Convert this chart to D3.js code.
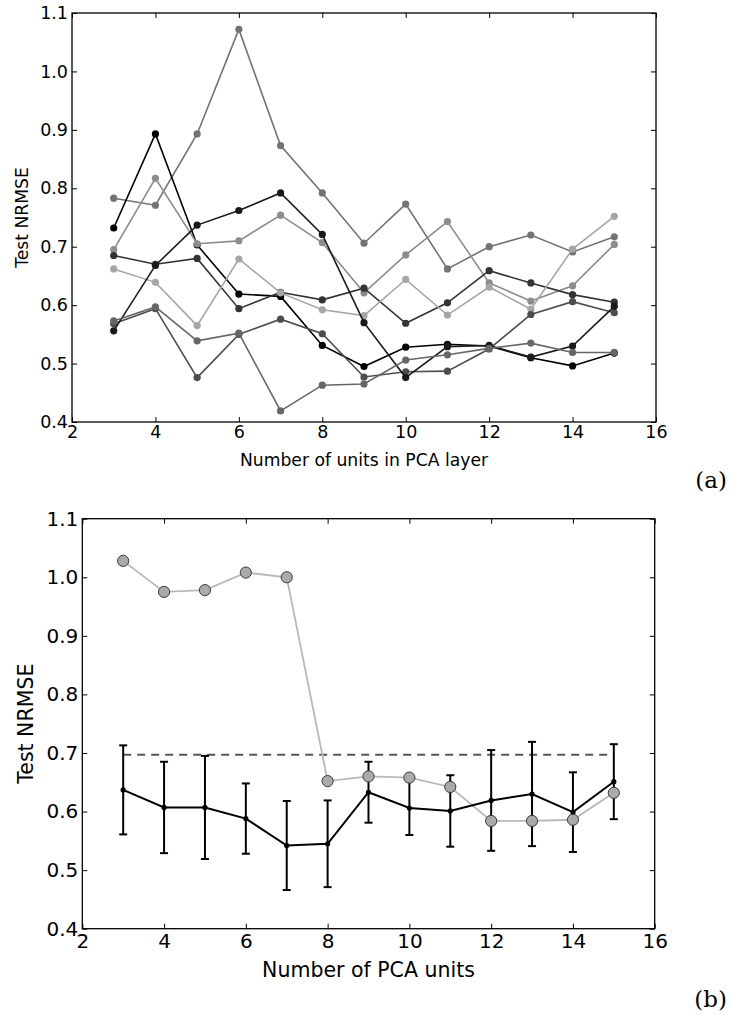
<!DOCTYPE html>
<html>
<head>
<meta charset="utf-8">
<script src="https://cdn.jsdelivr.net/npm/d3@7"></script>
<style>
  body { margin: 0; background: #fff; }
  svg { display: block; }
  .tick text { font-family: "DejaVu Sans", sans-serif; fill: #000; }
  .tick line { stroke: #000; stroke-width: 1; }
</style>
</head>
<body>
<div id="chart"></div>
<script>
// x values shared by both panels
const units = [3, 4, 5, 6, 7, 8, 9, 10, 11, 12, 13, 14, 15];

// (a) test NRMSE of the individual runs
const run1 = [0.783, 0.771, 0.893, 1.072, 0.873, 0.792, 0.706, 0.773, 0.662, 0.700, 0.720, 0.691, 0.717];
const run2 = [0.732, 0.893, 0.703, 0.619, 0.615, 0.531, 0.495, 0.528, 0.533, 0.530, 0.510, 0.496, 0.518];
const run3 = [0.695, 0.817, 0.705, 0.710, 0.754, 0.707, 0.621, 0.686, 0.743, 0.638, 0.607, 0.633, 0.704];
const run4 = [0.685, 0.670, 0.680, 0.594, 0.622, 0.609, 0.629, 0.569, 0.604, 0.659, 0.638, 0.618, 0.605];
const run5 = [0.662, 0.639, 0.565, 0.679, 0.621, 0.592, 0.582, 0.644, 0.583, 0.631, 0.593, 0.696, 0.752];
const run6 = [0.568, 0.594, 0.476, 0.550, 0.576, 0.551, 0.477, 0.486, 0.487, 0.525, 0.584, 0.606, 0.587];
const run7 = [0.556, 0.668, 0.737, 0.762, 0.792, 0.721, 0.570, 0.476, 0.529, 0.531, 0.511, 0.530, 0.598];
const run8 = [0.573, 0.597, 0.539, 0.552, 0.419, 0.463, 0.465, 0.506, 0.515, 0.526, 0.535, 0.519, 0.519];

// (b) mean and spread over runs, the single-model curve and the reference level
const meanNRMSE = [0.637, 0.607, 0.607, 0.588, 0.542, 0.545, 0.633, 0.606, 0.601, 0.619, 0.630, 0.599, 0.651];
const errNRMSE = [0.076, 0.078, 0.088, 0.060, 0.076, 0.074, 0.052, 0.046, 0.061, 0.086, 0.089, 0.068, 0.064];
const pcaNRMSE = [1.028, 0.975, 0.978, 1.008, 1.000, 0.652, 0.660, 0.658, 0.642, 0.584, 0.584, 0.586, 0.632];
const referenceNRMSE = 0.697;

const yTicks = [0.4, 0.5, 0.6, 0.7, 0.8, 0.9, 1.0, 1.1];
const xTicks = [2, 4, 6, 8, 10, 12, 14, 16];

const runs = [run1, run2, run3, run4, run5, run6, run7, run8];
const runShades = ["#737373", "#000000", "#8c8c8c", "#333333", "#a6a6a6", "#4d4d4d", "#1a1a1a", "#666666"];

const W = 730, H = 1022;
const svg = d3.select("#chart").append("svg").attr("width", W).attr("height", H);

// draws the boxed frame with inward ticks on all four sides
function drawFrame(g, x, y, fontSize, pad) {
  const [x0, x1] = x.range();
  const [y0, y1] = y.range();
  const tick = 5;

  g.append("g")
    .attr("transform", "translate(0," + y0 + ")")
    .call(d3.axisBottom(x).tickValues(xTicks).tickSize(-tick).tickPadding(pad.x).tickFormat(d3.format("d")))
    .call(a => a.select(".domain").remove())
    .selectAll("text").style("font-size", fontSize + "px");
  g.append("g")
    .attr("transform", "translate(0," + y1 + ")")
    .call(d3.axisTop(x).tickValues(xTicks).tickSize(-tick).tickFormat(""))
    .call(a => a.select(".domain").remove());
  g.append("g")
    .attr("transform", "translate(" + x0 + ",0)")
    .call(d3.axisLeft(y).tickValues(yTicks).tickSize(-tick).tickPadding(pad.y).tickFormat(d3.format(".1f")))
    .call(a => a.select(".domain").remove())
    .selectAll("text").style("font-size", fontSize + "px");
  g.append("g")
    .attr("transform", "translate(" + x1 + ",0)")
    .call(d3.axisRight(y).tickValues(yTicks).tickSize(-tick).tickFormat(""))
    .call(a => a.select(".domain").remove());

  g.append("rect")
    .attr("x", x0).attr("y", y1)
    .attr("width", x1 - x0).attr("height", y0 - y1)
    .attr("fill", "none").attr("stroke", "#000").attr("stroke-width", 1.3);
}

function axisLabels(g, x, y, fontSize, xText, xBase, yCenterX) {
  const [x0, x1] = x.range();
  const [y0, y1] = y.range();
  g.append("text")
    .attr("x", (x0 + x1) / 2).attr("y", xBase)
    .attr("text-anchor", "middle")
    .style("font-family", "DejaVu Sans, sans-serif")
    .style("font-size", fontSize + "px")
    .text(xText);
  g.append("text")
    .attr("transform", "translate(" + yCenterX + "," + (y0 + y1) / 2 + ") rotate(-90)")
    .attr("text-anchor", "middle")
    .attr("dy", "0.35em")
    .style("font-family", "DejaVu Sans, sans-serif")
    .style("font-size", fontSize + "px")
    .text("Test NRMSE");
}

function panelTag(text, px, py) {
  svg.append("text")
    .attr("x", px).attr("y", py)
    .attr("text-anchor", "end")
    .style("font-family", "DejaVu Serif, Liberation Serif, serif")
    .style("font-size", "23px")
    .text(text);
}

// ---- panel (a): every run as its own grey polyline
{
  const x = d3.scaleLinear().domain([2, 16]).range([72, 656]);
  const y = d3.scaleLinear().domain([0.4, 1.1]).range([422, 13]);
  const g = svg.append("g").attr("class", "panel-a");

  const line = d3.line().x((d, i) => x(units[i])).y(d => y(d));

  runs.forEach(function (r, k) {
    const s = g.append("g").attr("class", "run");
    s.append("path")
      .datum(r)
      .attr("d", line)
      .attr("fill", "none")
      .attr("stroke", runShades[k])
      .attr("stroke-width", 1.6);
    s.selectAll("circle")
      .data(r)
      .enter()
      .append("circle")
      .attr("cx", (d, i) => x(units[i]))
      .attr("cy", d => y(d))
      .attr("r", 3.6)
      .attr("fill", runShades[k]);
  });

  drawFrame(g, x, y, 17.5, { x: 4, y: 4 });
  axisLabels(g, x, y, 17.2, "Number of units in PCA layer", 466, 22);
  panelTag("(a)", 727, 488);
}

// ---- panel (b): mean with error bars, single-model curve, reference level
{
  const x = d3.scaleLinear().domain([2, 16]).range([82.3, 654.7]);
  const y = d3.scaleLinear().domain([0.4, 1.1]).range([928.7, 518.7]);
  const g = svg.append("g").attr("class", "panel-b");

  g.append("line")
    .attr("x1", x(units[0])).attr("x2", x(units[units.length - 1]))
    .attr("y1", y(referenceNRMSE)).attr("y2", y(referenceNRMSE))
    .attr("stroke", "#555")
    .attr("stroke-width", 2)
    .attr("stroke-dasharray", "8,6");

  const pcaLine = d3.line().x((d, i) => x(units[i])).y(d => y(d));
  g.append("path")
    .datum(pcaNRMSE)
    .attr("d", pcaLine)
    .attr("fill", "none")
    .attr("stroke", "#b8b8b8")
    .attr("stroke-width", 1.8);

  // error bars
  const bars = g.selectAll(".errbar")
    .data(meanNRMSE)
    .enter()
    .append("g")
    .attr("class", "errbar")
    .attr("stroke", "#000")
    .attr("stroke-width", 2);
  bars.append("line")
    .attr("x1", (d, i) => x(units[i])).attr("x2", (d, i) => x(units[i]))
    .attr("y1", (d, i) => y(d + errNRMSE[i])).attr("y2", (d, i) => y(d - errNRMSE[i]));
  bars.append("line")
    .attr("x1", (d, i) => x(units[i]) - 4).attr("x2", (d, i) => x(units[i]) + 4)
    .attr("y1", (d, i) => y(d + errNRMSE[i])).attr("y2", (d, i) => y(d + errNRMSE[i]));
  bars.append("line")
    .attr("x1", (d, i) => x(units[i]) - 4).attr("x2", (d, i) => x(units[i]) + 4)
    .attr("y1", (d, i) => y(d - errNRMSE[i])).attr("y2", (d, i) => y(d - errNRMSE[i]));

  g.append("path")
    .datum(meanNRMSE)
    .attr("d", pcaLine)
    .attr("fill", "none")
    .attr("stroke", "#000")
    .attr("stroke-width", 2);
  g.selectAll(".meanDot")
    .data(meanNRMSE)
    .enter()
    .append("circle")
    .attr("class", "meanDot")
    .attr("cx", (d, i) => x(units[i]))
    .attr("cy", d => y(d))
    .attr("r", 2.6)
    .attr("fill", "#000");

  g.selectAll(".pcaDot")
    .data(pcaNRMSE)
    .enter()
    .append("circle")
    .attr("class", "pcaDot")
    .attr("cx", (d, i) => x(units[i]))
    .attr("cy", d => y(d))
    .attr("r", 5.6)
    .attr("fill", "#aaaaaa")
    .attr("stroke", "#3a3a3a")
    .attr("stroke-width", 1);

  drawFrame(g, x, y, 20, { x: 5, y: 4 });
  axisLabels(g, x, y, 20.5, "Number of PCA units", 977, 26);
  panelTag("(b)", 727, 1007);
}
</script>
</body>
</html>
